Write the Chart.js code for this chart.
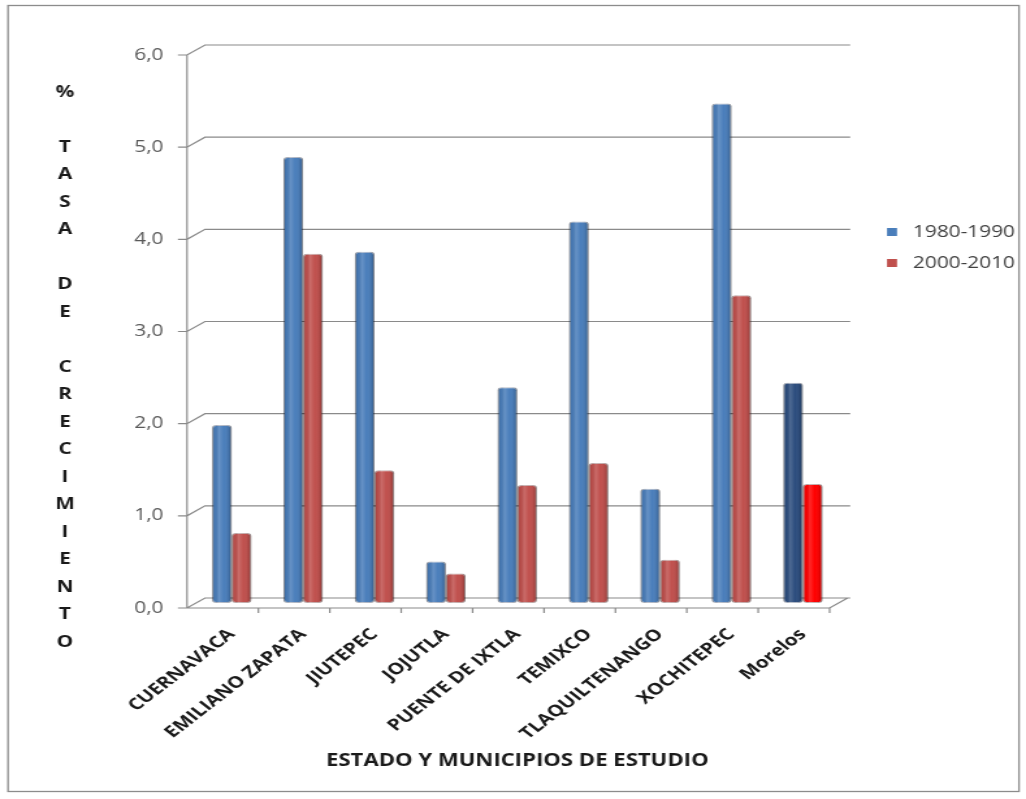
<!DOCTYPE html>
<html>
<head>
<meta charset="utf-8">
<script src="https://cdn.jsdelivr.net/npm/chart.js@4.4.1/dist/chart.umd.min.js"></script>
<style>
  html, body { margin: 0; padding: 0; background: #ffffff; }
  #chart { display: block; }
</style>
</head>
<body>
<canvas id="chart" width="789" height="799" style="width:1026px;height:799px"></canvas>
<script>
// data
const categories = ['CUERNAVACA', 'EMILIANO ZAPATA', 'JIUTEPEC', 'JOJUTLA', 'PUENTE DE IXTLA',
    'TEMIXCO', 'TLAQUILTENANGO', 'XOCHITEPEC', 'Morelos'];
const rate1980 = [1.93, 4.84, 3.81, 0.45, 2.34, 4.14, 1.24, 5.42, 2.39];
const rate2000 = [0.76, 3.79, 1.44, 0.32, 1.28, 1.52, 0.47, 3.34, 1.29];
const seriesLabels = ['1980-1990', '2000-2010'];
const yTitleLetters = ['%', '', 'T', 'A', 'S', 'A', '', 'D', 'E', '',
    'C', 'R', 'E', 'C', 'I', 'M', 'I', 'E', 'N', 'T', 'O'];
const xTitle = 'ESTADO Y MUNICIPIOS DE ESTUDIO';

// the reference is stretched sideways, so the canvas is drawn narrow and widened by css
const SX = 1026 / 789;
const DX = 9 / SX;   // half the depth of the 3d box, sideways
const DY = 5;        // half the depth, upwards

const blue = '#4a7ebb', blueDark = '#2c4d7e';
const red = '#c0504d', redBright = '#ff0000';
const gridColor = '#8a8a8a';

let blueColors = categories.map(function(c) { return c === 'Morelos' ? blueDark : blue; });
let redColors = categories.map(function(c) { return c === 'Morelos' ? redBright : red; });

// back wall, floor and front axis of the fake 3d box
const boxPlugin = {
    id: 'box',
    beforeDraw: function(chart) {
        let ctx = chart.ctx;
        ctx.save();
        ctx.fillStyle = '#ffffff';
        ctx.fillRect(0, 0, chart.width, chart.height);
        ctx.strokeStyle = '#8c8c8c';
        ctx.lineWidth = 1.3;
        ctx.strokeRect(8 / SX, 5.5, 1011 / SX, 786);
        ctx.restore();
    },
    beforeDatasetsDraw: function(chart) {
        let ctx = chart.ctx;
        let area = chart.chartArea;
        let y = chart.scales.y;
        let frontX = area.left - DX;
        ctx.save();
        ctx.strokeStyle = gridColor;
        ctx.lineWidth = 1.2;
        ctx.beginPath();
        y.ticks.forEach(function(t) {
            let py = y.getPixelForValue(t.value);
            ctx.moveTo(frontX - 7, py + DY);
            ctx.lineTo(frontX, py + DY);
            ctx.lineTo(area.left + DX, py - DY);
            ctx.lineTo(area.right + DX + 2, py - DY);
        });
        let top = y.getPixelForValue(y.max) + DY;
        let bottom = y.getPixelForValue(0) + DY;
        ctx.moveTo(frontX, top);
        ctx.lineTo(frontX, bottom);
        ctx.lineTo(area.right - DX, bottom);
        ctx.lineTo(area.right + DX, bottom - 2 * DY);
        let step = (area.right - area.left) / categories.length;
        for (let i = 1; i <= categories.length; i++) {
            let px = frontX + i * step;
            ctx.moveTo(px, bottom);
            ctx.lineTo(px, bottom + 5);
        }
        ctx.stroke();
        ctx.restore();
    },
    afterDatasetsDraw: function(chart) {
        // round shading so the bars look like cylinders
        let ctx = chart.ctx;
        ctx.save();
        chart.data.datasets.forEach(function(ds, di) {
            chart.getDatasetMeta(di).data.forEach(function(bar) {
                let left = bar.x - bar.width / 2;
                let g = ctx.createLinearGradient(left, 0, left + bar.width, 0);
                g.addColorStop(0, 'rgba(0,0,0,0.30)');
                g.addColorStop(0.14, 'rgba(0,0,0,0.04)');
                g.addColorStop(0.35, 'rgba(255,255,255,0.16)');
                g.addColorStop(0.6, 'rgba(255,255,255,0)');
                g.addColorStop(0.85, 'rgba(0,0,0,0.10)');
                g.addColorStop(1, 'rgba(0,0,0,0.32)');
                ctx.fillStyle = g;
                ctx.beginPath();
                ctx.roundRect(left, bar.y, bar.width, bar.base - bar.y, 3);
                ctx.fill();
            });
        });
        ctx.restore();
    },
    afterDraw: function(chart) {
        let ctx = chart.ctx;
        ctx.save();
        // vertical axis title, one letter per line
        ctx.fillStyle = '#1a1a1a';
        ctx.font = 'bold 16px "Open Sans"';
        ctx.textAlign = 'center';
        ctx.textBaseline = 'middle';
        yTitleLetters.forEach(function(letter, i) {
            ctx.fillText(letter, 65 / SX, 92 + i * 27.5);
        });
        // legend
        ctx.font = '16px "Open Sans"';
        ctx.textAlign = 'left';
        chart.data.datasets.forEach(function(ds, i) {
            let ly = 232 + i * 31;
            ctx.fillStyle = i === 0 ? blue : red;
            ctx.fillRect(887 / SX, ly - 4, 10 / SX, 8);
            ctx.fillStyle = '#404040';
            ctx.fillText(ds.label, 913 / SX, ly);
        });
        ctx.restore();
    }
};

new Chart(document.getElementById('chart'), {
    type: 'bar',
    data: {
        labels: categories,
        datasets: [
            {
                label: seriesLabels[0],
                data: rate1980,
                backgroundColor: blueColors,
                borderColor: 'rgba(30,50,90,0.35)',
                borderWidth: 1,
                borderRadius: 3,
                borderSkipped: false
            },
            {
                label: seriesLabels[1],
                data: rate2000,
                backgroundColor: redColors,
                borderColor: 'rgba(90,20,20,0.35)',
                borderWidth: 1,
                borderRadius: 3,
                borderSkipped: false
            }
        ]
    },
    options: {
        responsive: false,
        animation: false,
        devicePixelRatio: 1,
        layout: {
            padding: { top: 50, right: 789 - 838.6 / SX, bottom: 0, left: 0 }
        },
        plugins: {
            legend: { display: false },
            tooltip: { enabled: false }
        },
        datasets: {
            bar: { categoryPercentage: 0.55, barPercentage: 1.0 }
        },
        scales: {
            x: {
                grid: { display: false, drawTicks: false },
                border: { display: false },
                ticks: {
                    autoSkip: false,
                    minRotation: 45,
                    maxRotation: 45,
                    padding: 22,
                    color: '#1a1a1a',
                    font: { family: 'Open Sans', size: 16, weight: 'bold' }
                },
                title: {
                    display: true,
                    text: xTitle,
                    color: '#1a1a1a',
                    font: { family: 'Open Sans', size: 17, weight: 'bold' },
                    padding: { top: 0, bottom: 28 }
                },
                afterFit: function(scale) {
                    scale.height = 799 - 603;
                }
            },
            y: {
                min: 0,
                max: 6,
                grid: { display: false, drawTicks: false },
                border: { display: false },
                ticks: {
                    stepSize: 1,
                    padding: 25,
                    labelOffset: 5,
                    color: '#595959',
                    font: { family: 'Open Sans', size: 16 },
                    callback: function(value) {
                        return value.toFixed(1).replace('.', ',');
                    }
                },
                afterFit: function(scale) {
                    scale.width = 196 / SX;
                }
            }
        }
    },
    plugins: [boxPlugin]
});
</script>
</body>
</html>
